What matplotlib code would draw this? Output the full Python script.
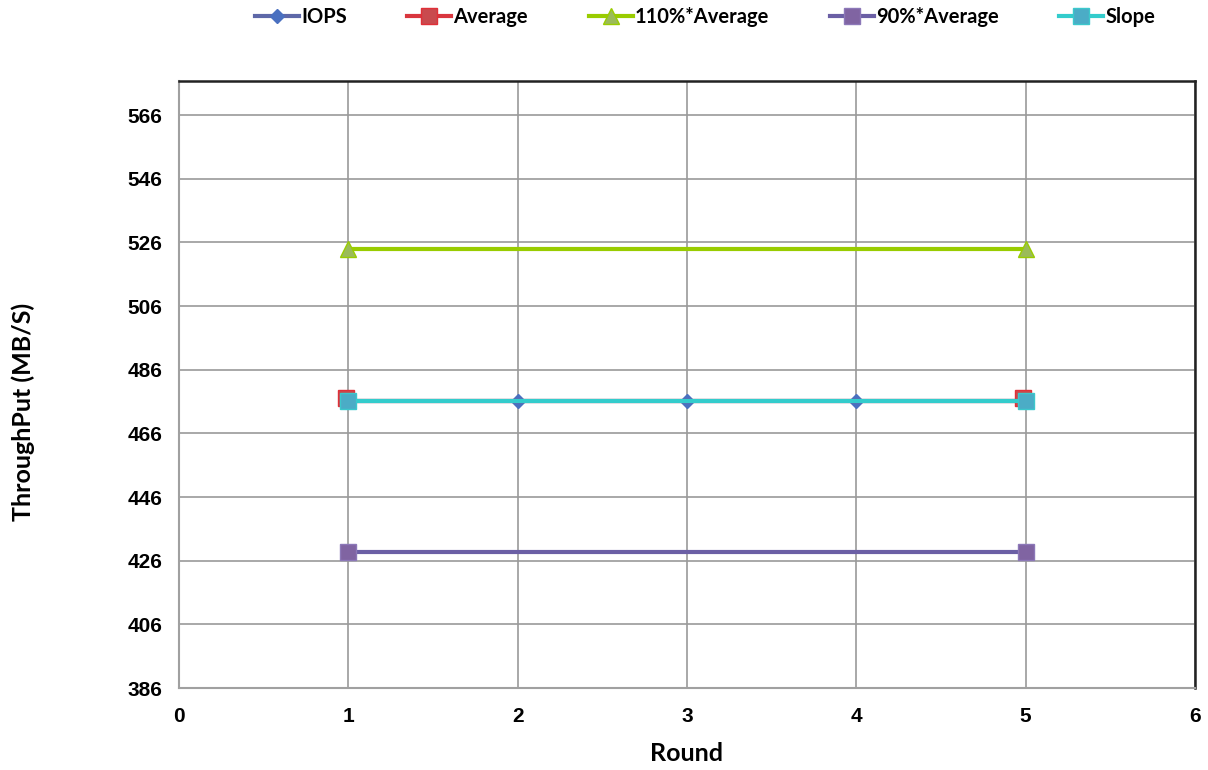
import matplotlib
matplotlib.use("Agg")
import matplotlib.pyplot as plt
import matplotlib.transforms as mtransforms
from matplotlib.lines import Line2D

# Test rounds and measured throughput
rounds = [1, 2, 3, 4, 5]
iops = [476.3, 476.3, 476.3, 476.3, 476.3]

# Reference lines (drawn at first and last round)
ref_rounds = [1, 5]
average = [476.3, 476.3]
avg_110 = [523.9, 523.9]
avg_90 = [428.7, 428.7]
slope = [476.3, 476.3]

x_ticks = [0, 1, 2, 3, 4, 5, 6]
y_ticks = [386, 406, 426, 446, 466, 486, 506, 526, 546, 566]

fig = plt.figure(figsize=(12.08, 7.70), dpi=100)
ax = fig.add_axes([179 / 1208, 1 - 688 / 770, (1195 - 179) / 1208, (688 - 81) / 770])

lw = 3.0
ax.plot(rounds, iops, color="#5E68A8", lw=lw, marker="D", ms=7.5,
        mfc="#4A70C0", mec="#4A70C0", label="IOPS", zorder=3)

# average: line in place, markers nudged a hair up-left of the slope markers
avg_style = dict(color="#D9363E", lw=lw, marker="s", ms=11,
                 mfc="#C94A4E", mec="#E03038")
ax.plot(ref_rounds, average, color=avg_style["color"], lw=lw, zorder=3)
avg_shift = mtransforms.offset_copy(ax.transData, fig=fig, x=-2.5, y=2.5, units="dots")
ax.plot(ref_rounds, average, ls="none", marker="s", ms=11,
        mfc="#C94A4E", mec="#E03038", zorder=3, transform=avg_shift)

ax.plot(ref_rounds, avg_110, color="#99CC00", lw=lw, marker="^", ms=11,
        mfc="#9BBB59", mec="#99CC00", zorder=3)
ax.plot(ref_rounds, avg_90, color="#6B5FA5", lw=lw, marker="s", ms=11,
        mfc="#8064A2", mec="#8C78B8", zorder=3)
ax.plot(ref_rounds, slope, color="#33CCCC", lw=lw, marker="s", ms=11,
        mfc="#4BACC6", mec="#3CC8CC", zorder=4)

ax.set_xlim(0, 6)
ax.set_ylim(386, 576.7)
ax.set_xticks(x_ticks)
ax.set_yticks(y_ticks)
ax.grid(True, color="#9A9A9A", lw=1.2)
ax.set_axisbelow(True)
ax.tick_params(length=0)
for lab in ax.get_xticklabels() + ax.get_yticklabels():
    lab.set_fontfamily("Liberation Sans")
    lab.set_fontweight("bold")
    lab.set_fontsize(15)
ax.tick_params(axis="x", pad=14)
ax.tick_params(axis="y", pad=12)

for side in ("left", "bottom"):
    ax.spines[side].set_color("#A0A0A0")
    ax.spines[side].set_linewidth(1.5)
for side in ("top", "right"):
    ax.spines[side].set_color("#222222")
    ax.spines[side].set_linewidth(1.8)

ax.set_xlabel("Round", fontfamily="Lato", fontweight="bold", fontsize=18, labelpad=11)
ax.set_ylabel("ThroughPut (MB/S)", fontfamily="Lato", fontweight="bold", fontsize=18)
ax.yaxis.set_label_coords(-0.142, 0.455)

series_names = ["IOPS", "Average", "110%*Average", "90%*Average", "Slope"]
handles = [
    Line2D([], [], color="#5E68A8", lw=lw, marker="D", ms=7.5, mfc="#4A70C0", mec="#4A70C0"),
    Line2D([], [], **avg_style),
    Line2D([], [], color="#99CC00", lw=lw, marker="^", ms=11, mfc="#9BBB59", mec="#99CC00"),
    Line2D([], [], color="#6B5FA5", lw=lw, marker="s", ms=11, mfc="#8064A2", mec="#8C78B8"),
    Line2D([], [], color="#33CCCC", lw=lw, marker="s", ms=11, mfc="#4BACC6", mec="#3CC8CC"),
]
fig.legend(handles, series_names, loc="center", bbox_to_anchor=(705 / 1208, 1 - 17 / 770),
           ncol=5, frameon=False, handlelength=2.2, handletextpad=0.1,
           columnspacing=3.0, prop={"family": "Lato", "weight": "bold", "size": 14.5})

fig.savefig("out.png", dpi=100, facecolor="white")
